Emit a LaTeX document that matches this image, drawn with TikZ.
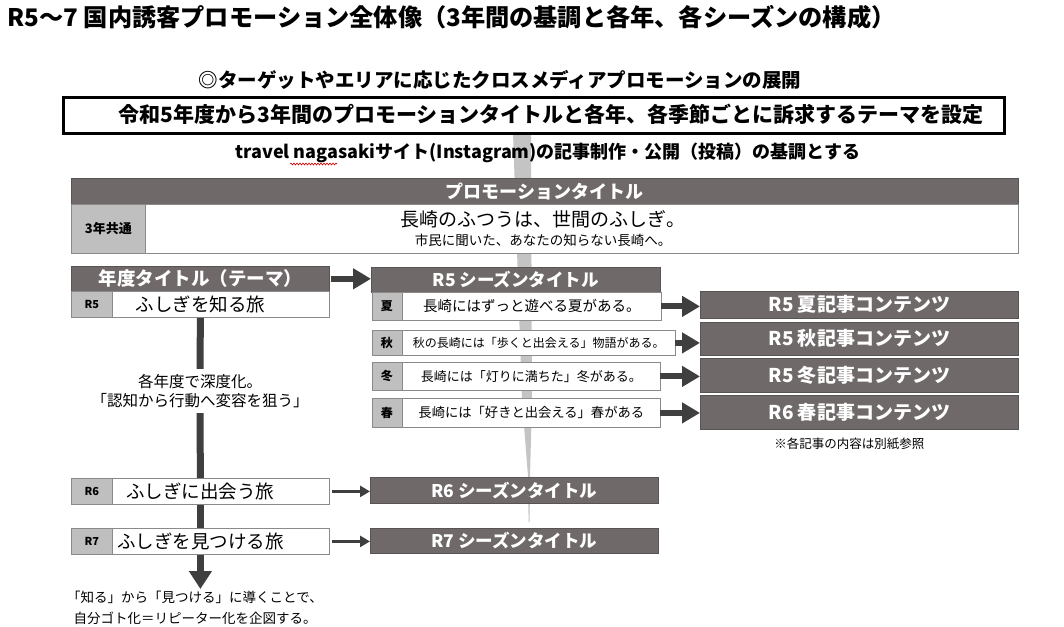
\documentclass[tikz,border=0pt]{standalone}
\usepackage{fontspec}
\setmainfont{Noto Sans CJK JP}
\usetikzlibrary{positioning,arrows.meta,calc,decorations.pathmorphing}
\definecolor{bargray}{HTML}{6F6969}
\definecolor{cellgray}{HTML}{BFBFBF}
\definecolor{rimgray}{HTML}{8A8A8A}
\definecolor{shaftgray}{HTML}{3F3F3F}
\definecolor{bandgray}{HTML}{C4C4C4}
\newcommand\fsz[2]{\fontsize{#1}{#2}\selectfont}

\begin{document}
\begin{tikzpicture}[x=1pt,y=-1pt,
 bar/.style={fill=bargray,draw=bargray!80!black,line width=0.6pt,text=white,font=\bfseries\fsz{18}{20},inner sep=0pt,anchor=north west},
 rowbox/.style={fill=white,draw=rimgray,line width=0.8pt,inner sep=0pt,anchor=north west},
 tagcell/.style={fill=cellgray,draw=rimgray,line width=0.8pt,inner sep=0pt,anchor=north west,font=\bfseries\fsz{11}{12}},
 bigarrow/.style={draw=shaftgray,line width=6pt,-{Triangle[length=18pt,width=20pt]}},
 smallarrow/.style={draw=shaftgray,line width=3pt,shorten <=2pt,-{Triangle[length=10pt,width=11pt]}},
 spine/.style={draw=shaftgray,line width=7pt}]
\useasboundingbox (0,0) rectangle (1064,626);
\fill[white] (0,0) rectangle (1064,626);

% Grey band running down behind the whole structure.
\fill[bandgray] (513,132) -- (531,132) -- (532,400) -- (530,476) -- (529.6,522) -- (528.6,522) -- (528,476) -- (522,400) -- cycle;

\node[anchor=west,font=\bfseries\fsz{24.2}{26}] (title) at (4,17) {R5〜7 国内誘客プロモーション全体像（3年間の基調と各年、各シーズンの構成）};
\node[font=\bfseries\fsz{19.5}{21}] (cross) at (500,80) {◎ターゲットやエリアに応じたクロスメディアプロモーションの展開};
\node[draw,line width=3pt,fill=white,minimum width=941pt,minimum height=36pt,anchor=north west,inner sep=0pt] (theme) at (62,96) {};
\node[font=\bfseries\fsz{21}{24}] (themetext) at (551,114) {令和5年度から3年間のプロモーションタイトルと各年、各季節ごとに訴求するテーマを設定};
\node[font=\bfseries\fsz{18}{20}] (basis) at (548,153) {travel nagasakiサイト(Instagram)の記事制作・公開（投稿）の基調とする};
% spell-check squiggle under the site name
\draw[red!85!black,line width=0.6pt,decorate,decoration={snake,amplitude=1pt,segment length=3pt}] (290,164) -- (337,164);

% Promotion title for all three years.
\node[bar,minimum width=947pt,minimum height=26pt] (promohead) at (71,178) {プロモーションタイトル};
\node[rowbox,minimum width=947pt,minimum height=49pt] (promorow) at (71,204) {};
\node[tagcell,minimum width=74pt,minimum height=49pt,font=\bfseries\fsz{13}{14}] (common) at (71,204) {3年共通};
\node[font=\fsz{19}{21}] (slogan) at (543,219) {長崎のふつうは、世間のふしぎ。};
\node[font=\fsz{13.5}{15}] (subslogan) at (543,240) {市民に聞いた、あなたの知らない長崎へ。};

% Yearly titles.
\node[bar,minimum width=258pt,minimum height=25pt,font=\bfseries\fsz{18.5}{20}] (yearhead) at (71,266) {年度タイトル（テーマ）};
\foreach \yr/\y/\tx in {5/291/ふしぎを知る旅,6/478/ふしぎに出会う旅,7/528/ふしぎを見つける旅} {
 \node[rowbox,minimum width=258pt,minimum height=26pt] (y\yr-row) at (71,\y) {};
 \node[tagcell,minimum width=41pt,minimum height=26pt] (y\yr-tag) at (71,\y) {R\yr};
 \node[font=\fsz{18.5}{20}] (y\yr-title) at (y\yr-row.center) {\tx};
}

% Season titles of R5.
\node[bar,minimum width=289pt,minimum height=25pt,font=\bfseries\fsz{17.5}{19}] (s5head) at (371,267) {R5 シーズンタイトル};
\foreach \sname/\season/\y/\w/\h/\ptsz/\tx in {sum/夏/292/289/28/14.5/長崎にはずっと遊べる夏がある。,aut/秋/330/303/25/12/秋の長崎には「歩くと出会える」物語がある。,win/冬/362/288/28/13/長崎には「灯りに満ちた」冬がある。,spr/春/398/288/29/13.3/長崎には「好きと出会える」春がある} {
 \node[rowbox,minimum width=\w pt,minimum height=\h pt] (\sname-row) at (371.5,\y) {};
 \node[tagcell,minimum width=30pt,minimum height=\h pt,font=\bfseries\fsz{12}{13}] (\sname-tag) at (371.5,\y) {\season};
 \node[font=\fsz{\ptsz}{\ptsz}] (\sname-title) at ($(\sname-tag.east)!0.5!(\sname-row.east)$) {\tx};
}
\foreach \sname/\y/\h/\tx in {sum/291/27/R5 夏記事コンテンツ,aut/322/33/R5 秋記事コンテンツ,win/358/34/R5 冬記事コンテンツ,spr/395/34/R6 春記事コンテンツ} {
 \node[bar,minimum width=318pt,minimum height=\h pt,font=\bfseries\fsz{19}{21}] (\sname-cont) at (700,\y) {\tx};
 \draw[bigarrow] (\sname-row.east) -- (\sname-row.east -| \sname-cont.west);
}
\node[below=5pt of spr-cont,xshift=-10pt,font=\fsz{12.5}{14}] (note) {※各記事の内容は別紙参照};

\node[bar,minimum width=288pt,minimum height=26pt,font=\bfseries\fsz{17.5}{19}] (s6head) at (370,477) {R6 シーズンタイトル};
\node[bar,minimum width=288pt,minimum height=25pt,font=\bfseries\fsz{17.5}{19}] (s7head) at (370,528) {R7 シーズンタイトル};

\draw[bigarrow,shorten <=1pt] (yearhead.east) -- (yearhead.east -| s5head.west);
\draw[smallarrow] (y6-row.east) -- (y6-row.east -| s6head.west);
\draw[smallarrow] (y7-row.east) -- (y7-row.east -| s7head.west);

% Spine from year to year.
\node[font=\fsz{15.5}{19.5},align=center,inner sep=5pt] (deepen) at (200,391) {各年度で深度化。\\「認知から行動へ変容を狙う」};
\node[font=\fsz{13.5}{21},align=center,anchor=north,inner sep=2pt] (aim) at (195,589) {「知る」から「見つける」に導くことで、\\自分ゴト化＝リピーター化を企図する。};
\draw[spine] (y5-row.south) -- (deepen.north);
\draw[spine] (deepen.south) -- (y6-row.north);
\draw[spine] (y6-row.south) -- (y7-row.north);
\draw[spine,-{Triangle[length=18pt,width=22pt]}] (y7-row.south) -- (y7-row.south |- aim.north);
\end{tikzpicture}
\end{document}
